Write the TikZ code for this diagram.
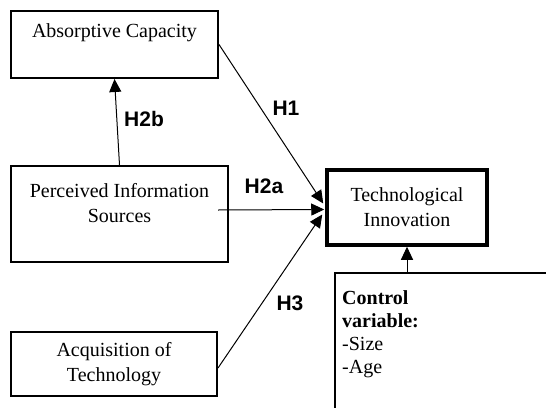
\documentclass[tikz,border=0pt]{standalone}
\usepackage{fontspec}
\setmainfont{Liberation Serif}
\newfontfamily\labelfont{Liberation Sans}
\usetikzlibrary{arrows.meta,calc}
\begin{document}
\begin{tikzpicture}[x=1pt,y=-1pt,
  box/.style={draw,line width=2pt,inner sep=0pt,align=center,
    font=\fontsize{20}{25}\selectfont},
  hyp/.style={font=\labelfont\bfseries\fontsize{21}{22}\selectfont,inner sep=0pt},
  conn/.style={line width=1pt,-{Triangle[length=13pt,width=12pt]}}]
\useasboundingbox (0,0) rectangle (546,407);
\clip (0,0) rectangle (546,407);
\node[box,minimum width=207pt,minimum height=67pt] (abs) at (114.5,44.5) {Absorptive Capacity\\[2pt]\mbox{}};
\node[box,minimum width=217pt,minimum height=96pt] (pis) at (119.5,214) {Perceived Information\\Sources\\[-2pt]\mbox{}};
\node[box,minimum width=206pt,minimum height=64pt] (acq) at (114,364) {Acquisition of\\Technology};
\node[box,line width=3.5pt,minimum width=160pt,minimum height=75pt] (tech) at (407,207.5) {Technological\\Innovation};
\node[draw,line width=1.5pt,inner sep=0pt,minimum width=225pt,minimum height=150pt] (ctl) at (447.5,348) {};
\node[anchor=north west,inner sep=0pt,align=left,font=\fontsize{20}{23}\selectfont] (ctltext) at (342,290)
  {\textbf{Control}\\\textbf{variable:}\\-Size\\-Age};
\coordinate (ctltop) at (tech.south |- ctl.north);
\coordinate (h1end) at ($(tech.west)+(-2,-4)$);
\coordinate (h2astart) at ($(pis.east)+(-11,-4)$);
\coordinate (h2aend) at ($(tech.west)+(-1,2)$);
\coordinate (h3start) at ($(acq.east)+(0,4)$);
\coordinate (h3end) at ($(tech.west)+(-3,7)$);
\draw[conn] (abs.east) -- (h1end);
\draw[conn] (h2astart) -- (h2aend);
\draw[conn] (h3start) -- (h3end);
\draw[conn] (pis.north) -- (abs.south);
\draw[conn] (ctltop) -- (tech.south);
\node[hyp] (lh2b) at (144,119) {H2b};
\node[hyp] (lh1) at (286,108) {H1};
\node[hyp] (lh2a) at (264,186) {H2a};
\node[hyp] (lh3) at (290,303) {H3};
\end{tikzpicture}
\end{document}
